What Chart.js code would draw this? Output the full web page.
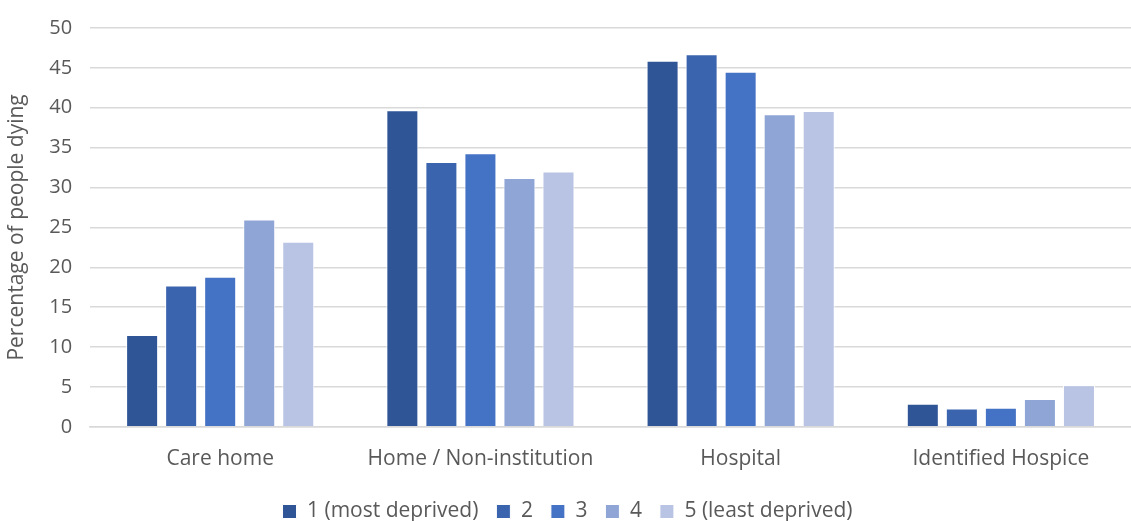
<!DOCTYPE html>
<html>
<head>
<meta charset="utf-8">
<script src="https://cdn.jsdelivr.net/npm/chart.js@4/dist/chart.umd.min.js"></script>
<style>
  html, body { margin: 0; padding: 0; background: #fff; }
  #wrap { width: 1131px; height: 521px; position: relative; }
</style>
</head>
<body>
<div id="wrap"><canvas id="c"></canvas></div>
<script>
// Place of death by deprivation quintile
const categories = ['Care home', 'Home / Non-institution', 'Hospital', 'Identified Hospice'];
const seriesNames = ['1 (most deprived)', '2', '3', '4', '5 (least deprived)'];
const q1 = [11.5, 39.7, 45.9, 2.9];
const q2 = [17.7, 33.2, 46.7, 2.3];
const q3 = [18.8, 34.3, 44.5, 2.4];
const q4 = [26.0, 31.2, 39.2, 3.5];
const q5 = [23.2, 32.0, 39.6, 5.2];
const yTicks = [0, 5, 10, 15, 20, 25, 30, 35, 40, 45, 50];

const colors = ['#2F5597', '#3A64AE', '#4472C4', '#8FA5D6', '#B9C3E3'];
const values = [q1, q2, q3, q4, q5];

const fontFamily = '"Open Sans", Lato, "Liberation Sans", sans-serif';
const textColor = '#595959';

new Chart(document.getElementById('c'), {
  type: 'bar',
  data: {
    labels: categories,
    datasets: seriesNames.map((name, i) => ({
      label: name,
      data: values[i],
      backgroundColor: colors[i],
      borderColor: '#ffffff',
      borderWidth: 1,
      categoryPercentage: 0.75,
      barPercentage: 0.82
    }))
  },
  options: {
    responsive: true,
    maintainAspectRatio: false,
    animation: false,
    layout: { padding: { left: 4, right: 0, top: 0, bottom: -11 } },
    plugins: {
      legend: {
        position: 'bottom',
        labels: {
          boxWidth: 14,
          boxHeight: 14,
          padding: 18,
          color: textColor,
          font: { family: fontFamily, size: 21 }
        }
      },
      tooltip: { enabled: false }
    },
    scales: {
      x: {
        grid: { display: false },
        border: { display: true, color: '#D9D9D9', width: 1.5 },
        ticks: { color: textColor, font: { family: fontFamily, size: 21 }, padding: 12 },
        afterFit: axis => { axis.height -= 1; }
      },
      y: {
        min: 0,
        max: 50,
        afterBuildTicks: axis => { axis.ticks = yTicks.map(v => ({ value: v })); },
        grid: { color: '#D9D9D9', lineWidth: 1.5, drawTicks: false },
        border: { display: false },
        ticks: { color: textColor, font: { family: fontFamily, size: 20, lineHeight: 1.0 }, padding: 18 },
        title: {
          display: true,
          text: 'Percentage of people dying',
          color: textColor,
          font: { family: fontFamily, size: 21 },
          padding: { top: 0, bottom: 2 }
        }
      }
    }
  }
});
</script>
</body>
</html>
